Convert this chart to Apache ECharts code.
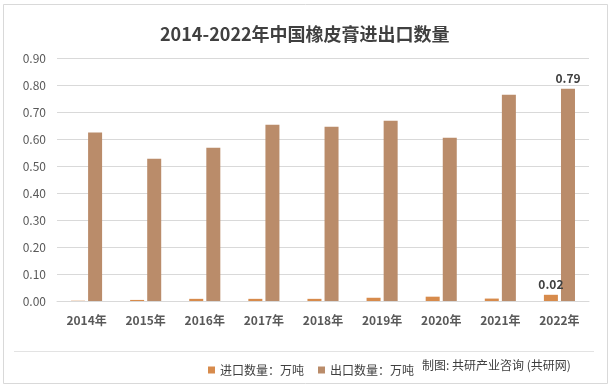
<!DOCTYPE html>
<html><head><meta charset="utf-8">
<script src="https://cdn.jsdelivr.net/npm/echarts@6/dist/echarts.min.js"></script>
<style>html,body{margin:0;padding:0;background:#fff}#c{width:615px;height:390px}</style>
</head><body><div id="c"></div>
<script>
const categories = ['2014年','2015年','2016年','2017年','2018年','2019年','2020年','2021年','2022年'];
const importValues = [0.001,0.004,0.008,0.008,0.008,0.012,0.016,0.009,0.023];
const exportValues = [0.624,0.527,0.568,0.653,0.645,0.668,0.605,0.764,0.786];
const importLabels = ['','','','','','','','','0.02'];
const exportLabels = ['','','','','','','','','0.79'];
const yTicks = {min:0,max:0.9,interval:0.1};
const FONT = '"Noto Sans CJK SC","Noto Sans",sans-serif';
const chart = echarts.init(document.getElementById('c'), null, {renderer:'canvas'});
chart.setOption({
  backgroundColor:'#fff',
  animation:false,
  title:{text:'2014-2022年中国橡皮膏进出口数量',left:155,top:20,
    textStyle:{fontFamily:FONT,fontSize:18,fontWeight:'bold',color:'#404040'}},
  grid:{left:57,right:26,top:58,bottom:89,containLabel:false},
  legend:{left:203,top:359,itemWidth:7,itemHeight:7,itemGap:14,icon:'rect',
    textStyle:{fontFamily:FONT,fontSize:12,color:'#404040'},
    data:['进口数量：万吨','出口数量：万吨']},
  xAxis:{type:'category',data:categories,
    axisLine:{lineStyle:{color:'#d9d9d9'}},axisTick:{show:false},
    axisLabel:{fontFamily:FONT,fontSize:12,fontWeight:'bold',color:'#595959',margin:13}},
  yAxis:{type:'value',min:yTicks.min,max:yTicks.max,interval:yTicks.interval,
    axisLine:{show:false},axisTick:{show:false},
    splitLine:{lineStyle:{color:'#d9d9d9'}},
    axisLabel:{fontFamily:FONT,fontSize:12,color:'#595959',margin:11,formatter:v=>v.toFixed(2)}},
  series:[
    {name:'进口数量：万吨',type:'bar',data:importValues,barWidth:14,barGap:'22%',
     itemStyle:{color:'#D78B4C'},
     label:{show:true,position:'top',distance:4,fontFamily:FONT,fontSize:12,fontWeight:'bold',color:'#404040',
       formatter:p=>importLabels[p.dataIndex]}},
    {name:'出口数量：万吨',type:'bar',data:exportValues,barWidth:14,
     itemStyle:{color:'#BA8C6A'},
     label:{show:true,position:'top',distance:4,fontFamily:FONT,fontSize:12,fontWeight:'bold',color:'#404040',
       formatter:p=>exportLabels[p.dataIndex]}}
  ],
  graphic:[
    {type:'rect',shape:{x:3.5,y:4.5,width:604,height:379},style:{fill:'none',stroke:'#d9d9d9',lineWidth:1},silent:true},
    {type:'line',shape:{x1:14,y1:351.5,x2:594,y2:351.5},style:{stroke:'#e3e3e3',lineWidth:1},silent:true},
    {type:'text',left:422,top:359,style:{text:'制图: 共研产业咨询 (共研网)',fontFamily:FONT,fontSize:12,fill:'#404040'}}
  ]
});
</script></body></html>
